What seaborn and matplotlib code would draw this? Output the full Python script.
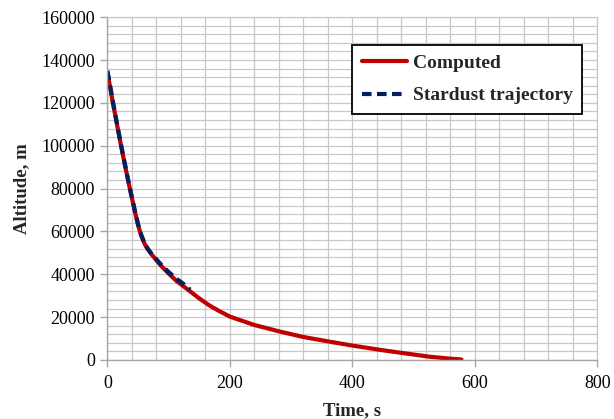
import matplotlib
matplotlib.use("Agg")
import matplotlib.pyplot as plt
from matplotlib.ticker import MultipleLocator
import pandas as pd
import seaborn as sns

# Computed descent trajectory (time in s, altitude in m)
computed_time = [0, 5, 10, 15, 20, 25, 30, 35, 40, 45, 50, 55, 60, 65, 70, 80, 90, 100,
                 113, 125, 135, 150, 165, 180, 200, 240, 282, 320, 363, 400, 445, 490,
                 526, 555, 578]
computed_alt = [134000, 126200, 118300, 110800, 103300, 96000, 89000, 82000, 75500, 69000,
                63000, 58200, 54600, 52000, 50000, 46500, 43200, 40300, 36800, 34200,
                32000, 28700, 25700, 23200, 20200, 16300, 13200, 10700, 8500, 6700, 4700,
                2900, 1500, 700, 200]

# Reference Stardust trajectory
stardust_time = [0, 5, 10, 15, 20, 25, 30, 35, 40, 45, 50, 55, 60, 65, 70, 80, 90, 100,
                 113, 125, 135]
stardust_alt = [135000, 127000, 118800, 111200, 103600, 96300, 89300, 82300, 75800, 69300,
                63300, 58500, 54900, 52300, 50300, 46900, 43800, 41000, 37800, 35300,
                32800]

df = pd.concat([
    pd.DataFrame({"Time": computed_time, "Altitude": computed_alt, "Series": "Computed"}),
    pd.DataFrame({"Time": stardust_time, "Altitude": stardust_alt, "Series": "Stardust trajectory"}),
], ignore_index=True)

sns.set_theme(style="white")
plt.rcParams["font.family"] = ["Liberation Serif", "DejaVu Serif"]

fig = plt.figure(figsize=(6.14, 4.19), dpi=100)
ax = fig.add_axes([0.175, 0.141, 0.798, 0.818])

grid_c = "#c8c8c8"
ax.xaxis.set_major_locator(MultipleLocator(200))
ax.xaxis.set_minor_locator(MultipleLocator(40))
ax.yaxis.set_major_locator(MultipleLocator(20000))
ax.yaxis.set_minor_locator(MultipleLocator(4000))
ax.grid(True, which="both", color=grid_c, linewidth=0.9)
ax.set_axisbelow(True)

sns.lineplot(data=df, x="Time", y="Altitude", hue="Series", style="Series",
             palette={"Computed": "#c00000", "Stardust trajectory": "#002060"},
             dashes={"Computed": "", "Stardust trajectory": (2.3, 1.3)},
             linewidth=3.0, sort=False, estimator=None, ax=ax)

ax.set_xlim(0, 800)
ax.set_ylim(0, 160000)

for side in ("left", "bottom"):
    ax.spines[side].set_color("#a6a6a6")
    ax.spines[side].set_linewidth(1.0)
for side in ("top", "right"):
    ax.spines[side].set_color(grid_c)
    ax.spines[side].set_linewidth(0.9)

ax.tick_params(axis="both", which="major", direction="out", length=5, width=1.0,
               color="#a6a6a6", labelsize=13, labelcolor="black", pad=4,
               left=True, bottom=True)
ax.tick_params(axis="x", which="major", pad=6)
ax.tick_params(axis="both", which="minor", length=0)

ax.set_xlabel("Time, s", fontsize=13.5, fontweight="bold", labelpad=7)
ax.set_ylabel("Altitude, m", fontsize=13.5, fontweight="bold", labelpad=8)

leg = ax.legend(loc="upper right", bbox_to_anchor=(0.969, 0.919), borderaxespad=0,
                frameon=True, fancybox=False, edgecolor="black", framealpha=1,
                prop={"weight": "bold", "size": 14}, handlelength=2.3,
                handletextpad=0.3, borderpad=0.5, labelspacing=0.75, title=None)
leg.get_frame().set_linewidth(1.3)

fig.savefig("out.png", dpi=100, facecolor="white")
